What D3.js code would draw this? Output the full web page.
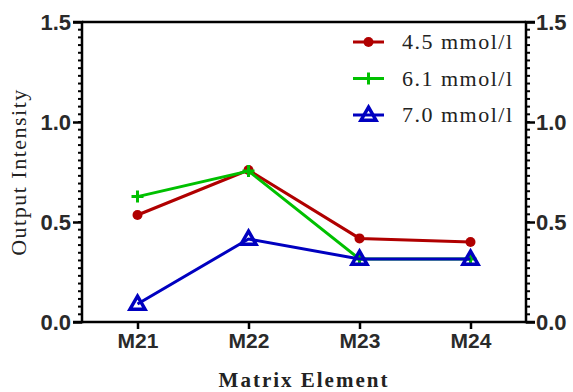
<!DOCTYPE html>
<html><head><meta charset="utf-8">
<script src="https://cdn.jsdelivr.net/npm/d3@7"></script>
<style>body{margin:0;background:#fff}svg{display:block}</style>
</head><body>
<svg id="c" width="573" height="392"></svg>
<script>
const categories = ["M21","M22","M23","M24"];
const seriesNames = ["4.5 mmol/l","6.1 mmol/l","7.0 mmol/l"];
const s45 = [0.535, 0.76, 0.418, 0.40];
const s61 = [0.627, 0.755, 0.315, 0.315];
const s70 = [0.09, 0.415, 0.315, 0.315];
const yTicks = [0.0, 0.5, 1.0, 1.5];
const colors = ["#b00000","#00c000","#0000c0"];
const series = [s45, s61, s70];

const svg = d3.select("#c");
const L=82, R=526, T=22, B=322;
const x = d3.scalePoint().domain(categories).range([L,R]).padding(0.5);
const y = d3.scaleLinear().domain([0,1.5]).range([B,T]);

const minor = d3.range(0, 1.5001, 0.5/13);

const g = svg.append("g");
g.selectAll(".ml").data(minor).enter().append("line")
  .attr("x1",L-4).attr("x2",L).attr("y1",d=>y(d)).attr("y2",d=>y(d))
  .attr("stroke","#000").attr("stroke-width",2);
g.selectAll(".mr").data(minor).enter().append("line")
  .attr("x1",R).attr("x2",R+4).attr("y1",d=>y(d)).attr("y2",d=>y(d))
  .attr("stroke","#000").attr("stroke-width",2);

const yl = d3.axisLeft(y).tickValues(yTicks).tickFormat(d3.format(".1f")).tickSize(9).tickPadding(2);
const yr = d3.axisRight(y).tickValues(yTicks).tickFormat(d3.format(".1f")).tickSize(9).tickPadding(1);
const xb = d3.axisBottom(x).tickSize(7).tickPadding(4);

function style(a,fs){
  a.selectAll("path,line").attr("stroke","#000").attr("stroke-width",2.5);
  a.selectAll("text").attr("font-family","Liberation Sans, Arial, sans-serif")
   .attr("font-weight","bold").attr("font-size",fs).attr("fill","#2a2a2a");
}
svg.append("g").attr("transform",`translate(${L},0)`).call(yl).call(a=>{a.select(".domain").attr("d",`M-9,${T}H0V${B}H-9`);style(a,22);});
svg.append("g").attr("transform",`translate(${R},0)`).call(yr).call(a=>{a.select(".domain").attr("d",`M9,${T}H0V${B}H9`);style(a,22);});
svg.append("g").attr("transform",`translate(0,${B})`).call(xb).call(a=>{a.select(".domain").attr("d",`M${L},0H${R}`);style(a,21);});
svg.append("line").attr("x1",L).attr("x2",R).attr("y1",T).attr("y2",T).attr("stroke","#000").attr("stroke-width",2.5);

const line = d3.line().x((d,i)=>x(categories[i])).y(d=>y(d));
series.forEach((s,k)=>{
  svg.append("path").datum(s).attr("d",line).attr("fill","none")
    .attr("stroke",colors[k]).attr("stroke-width",3);
  const gm = svg.append("g");
  s.forEach((v,i)=>marker(gm,k,x(categories[i]),y(v)));
});

function marker(sel,k,cx,cy){
  if(k===0){
    sel.append("circle").attr("cx",cx).attr("cy",cy).attr("r",5).attr("fill",colors[0]);
  } else if(k===1){
    sel.append("path").attr("d",`M${cx-6},${cy}H${cx+6}M${cx},${cy-6}V${cy+6}`)
      .attr("stroke",colors[1]).attr("stroke-width",3).attr("fill","none");
  } else {
    const h=13, w=15;
    sel.append("path").attr("d",`M${cx},${cy-h*0.6}L${cx+w/2},${cy+h*0.4}L${cx-w/2},${cy+h*0.4}Z`)
      .attr("stroke",colors[2]).attr("stroke-width",3.5).attr("fill","none");
  }
}

const lg = svg.append("g");
seriesNames.forEach((n,k)=>{
  const yy = 42 + k*36.5;
  lg.append("line").attr("x1",353).attr("x2",384).attr("y1",yy).attr("y2",yy)
    .attr("stroke",colors[k]).attr("stroke-width",3);
  marker(lg,k,368.5,yy);
  lg.append("text").attr("x",402).attr("y",yy+7).text(n)
    .attr("font-family","Liberation Serif, Times New Roman, serif").attr("font-size",22)
    .attr("letter-spacing","1.5px").attr("fill","#222");
});

svg.append("text").attr("transform",`translate(26,${(T+B)/2}) rotate(-90)`)
  .attr("text-anchor","middle").text("Output Intensity")
  .attr("font-family","Liberation Serif, Times New Roman, serif").attr("font-size",22)
  .attr("letter-spacing","1.5px").attr("fill","#222");
svg.append("text").attr("x",(L+R)/2).attr("y",387).attr("text-anchor","middle")
  .text("Matrix Element")
  .attr("font-family","Liberation Serif, Times New Roman, serif").attr("font-size",21).attr("font-weight","bold")
  .attr("letter-spacing","2px").attr("fill","#222");
</script>
</body></html>
